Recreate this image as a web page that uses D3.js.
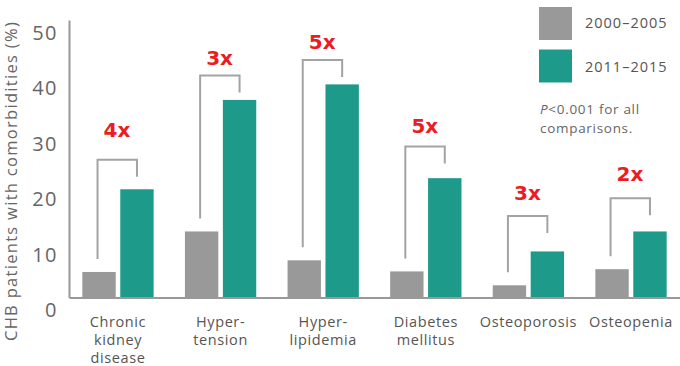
<!DOCTYPE html>
<html>
<head>
<meta charset="utf-8">
<script src="https://cdn.jsdelivr.net/npm/d3@7"></script>
<style>
  body { margin: 0; background: #fff; }
  svg { font-family: "Open Sans", sans-serif; }
</style>
</head>
<body>
<div id="chart"></div>
<script>
// values
const categories = ["Chronic kidney disease", "Hypertension", "Hyperlipidemia", "Diabetes mellitus", "Osteoporosis", "Osteopenia"];
const labelLines = [["Chronic", "kidney", "disease"], ["Hyper-", "tension"], ["Hyper-", "lipidemia"], ["Diabetes", "mellitus"], ["Osteoporosis"], ["Osteopenia"]];
const series = ["2000\u20132005", "2011\u20132015"];
const early = [4.6, 11.9, 6.7, 4.7, 2.2, 5.1];
const late = [19.5, 35.6, 38.4, 21.5, 8.3, 11.9];
const folds = ["4x", "3x", "5x", "5x", "3x", "2x"];
const bracketLevel = [24.8, 40.0, 42.8, 27.2, 14.7, 17.9]; // % units
const labelLevel = [30.2, 43.1, 46.1, 30.9, 18.8, 22.3];
const yTicks = [0, 10, 20, 30, 40, 50];

const width = 680, height = 366;
const colors = ["#999999", "#1e9a8a"];

const svg = d3.select("#chart").append("svg")
    .attr("width", width)
    .attr("height", height);

const y = d3.scaleLinear().domain([0, 50]).range([297.5, 20]);

const x0 = d3.scaleBand()
    .domain(categories)
    .range([69, 680])
    .paddingInner(0.305)
    .paddingOuter(0.13);

const x1 = d3.scaleBand()
    .domain(series)
    .range([0, x0.bandwidth()])
    .paddingInner(0.12);

const color = d3.scaleOrdinal().domain(series).range(colors);

// bars
const groups = svg.selectAll("g.grp")
    .data(categories)
    .enter().append("g")
    .attr("class", "grp")
    .attr("transform", d => `translate(${x0(d)},0)`);

groups.selectAll("rect")
    .data((d, i) => [{s: series[0], v: early[i]}, {s: series[1], v: late[i]}])
    .enter().append("rect")
    .attr("x", d => x1(d.s))
    .attr("y", d => y(d.v))
    .attr("width", x1.bandwidth())
    .attr("height", d => y(0) - y(d.v))
    .attr("fill", d => color(d.s));

// brackets + fold labels
groups.each(function(d, i) {
    const g = d3.select(this);
    const xl = x1(series[0]) + x1.bandwidth() / 2 - 1.5;
    const xr = x1(series[1]) + x1.bandwidth() / 2;
    const top = y(bracketLevel[i]);
    g.append("path")
        .attr("d", `M${xl},${y(early[i]) - 13}V${top}H${xr}V${top + 17}`)
        .attr("fill", "none")
        .attr("stroke", "#a3a3a3")
        .attr("stroke-width", 2);
    g.append("text")
        .attr("x", x0.bandwidth() / 2 - 1)
        .attr("y", y(labelLevel[i]))
        .attr("dy", "0.36em")
        .attr("text-anchor", "middle")
        .attr("fill", "#ec1c24")
        .style("font-family", "DejaVu Sans, sans-serif")
        .style("font-size", "20px")
        .style("font-weight", "bold")
        .text(folds[i]);
});

// y axis
const yAxis = svg.append("g")
    .attr("transform", "translate(69,0)")
    .call(d3.axisLeft(y).tickValues(yTicks).tickSize(0).tickPadding(11));
yAxis.select(".domain").attr("stroke", "#999").attr("stroke-width", 2);
yAxis.selectAll("text")
    .attr("dy", "0.36em")
    .attr("transform", "translate(0,12)")
    .attr("fill", "#666")
    .style("font-size", "20px")
    .style("letter-spacing", "1.5px")
    .style("font-family", "Open Sans, sans-serif");

// x axis
const xAxis = svg.append("g")
    .attr("transform", `translate(0,${y(0)})`)
    .call(d3.axisBottom(x0).tickSize(0).tickFormat(""));
xAxis.select(".domain").attr("stroke", "#999").attr("stroke-width", 2);

categories.forEach((c, i) => {
    const t = svg.append("text")
        .attr("x", x0(c) + x0.bandwidth() / 2)
        .attr("y", 322)
        .attr("text-anchor", "middle")
        .attr("fill", "#555")
        .style("font-size", "14.5px")
        .style("letter-spacing", "0.6px");
    labelLines[i].forEach((l, j) => {
        t.append("tspan")
            .attr("x", x0(c) + x0.bandwidth() / 2)
            .attr("dy", j === 0 ? "0.35em" : "18px")
            .text(l);
    });
});

// axis title
svg.append("text")
    .attr("transform", "translate(17,181) rotate(-90)")
    .attr("text-anchor", "middle")
    .attr("fill", "#666")
    .style("font-size", "16.5px")
    .style("letter-spacing", "1.3px")
    .text("CHB patients with comorbidities (%)");

// legend
const legend = svg.append("g");
series.forEach((s, i) => {
    legend.append("rect")
        .attr("x", 539)
        .attr("y", 7 + i * 42.5)
        .attr("width", 33)
        .attr("height", 33)
        .attr("fill", color(s));
    legend.append("text")
        .attr("x", 585)
        .attr("y", 23 + i * 44)
        .attr("dy", "0.35em")
        .attr("fill", "#555")
        .style("font-size", "14.5px")
        .style("letter-spacing", "1px")
        .text(s);
});

const note = legend.append("text")
    .attr("x", 540)
    .attr("y", 109)
    .attr("dy", "0.35em")
    .attr("fill", "#666")
    .style("font-size", "13.5px")
    .style("letter-spacing", "0.7px");
note.append("tspan").style("font-style", "italic").text("P");
note.append("tspan").text("<0.001 for all");
legend.append("text")
    .attr("x", 540)
    .attr("y", 128)
    .attr("dy", "0.35em")
    .attr("fill", "#666")
    .style("font-size", "13.5px")
    .style("letter-spacing", "0.7px")
    .text("comparisons.");
</script>
</body>
</html>
